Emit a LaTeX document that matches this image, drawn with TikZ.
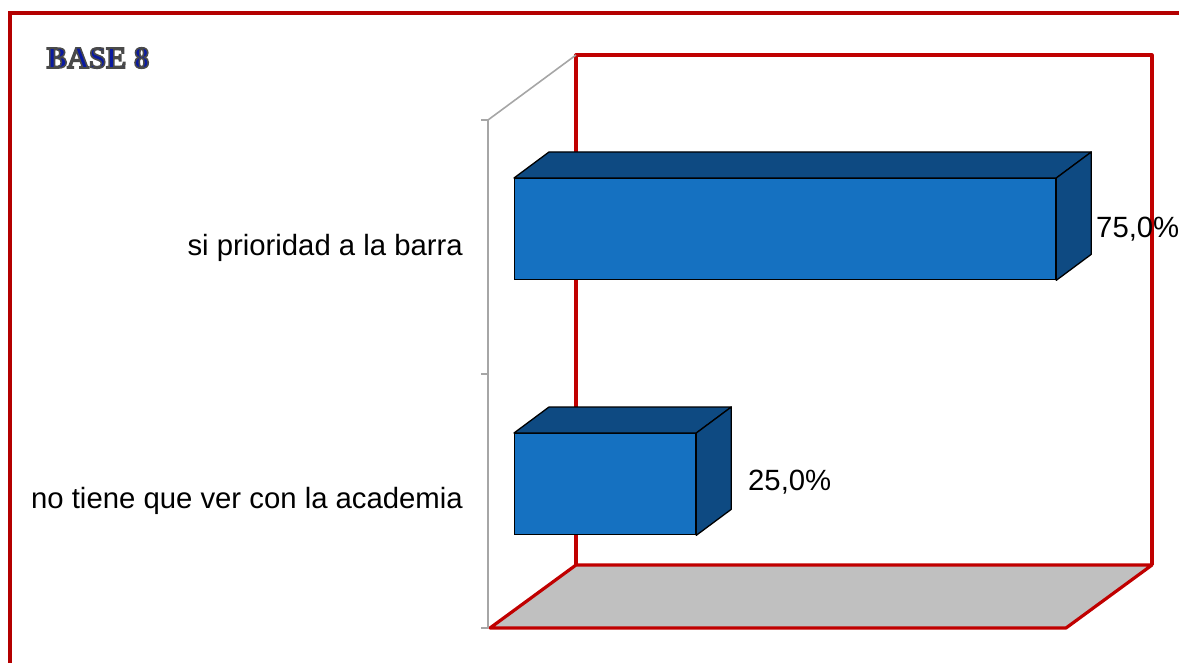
\documentclass[tikz,border=0pt]{standalone}
\usepackage{fontspec}
\setmainfont{Liberation Sans}
\newfontfamily\basefont{Liberation Serif}
\usetikzlibrary{positioning}
\def\depthx{35}
\def\depthy{26}
\def\outlineon{\special{pdf:literal direct 2 Tr 1.6 w 0.29 0.29 0.29 RG}}
\def\outlineoff{\special{pdf:literal direct 0 Tr}}
\definecolor{barfront}{HTML}{1571C1}
\definecolor{bardark}{HTML}{0E4A82}
\definecolor{wallred}{HTML}{C00000}
\definecolor{frameRed}{HTML}{B40000}
\definecolor{axisgray}{HTML}{A6A6A6}
\definecolor{floorgray}{HTML}{C0C0C0}
\definecolor{baseblue}{HTML}{0A1AA0}

\begin{document}
\begin{tikzpicture}[x=1pt,y=-1pt]
            \tikzstyle{bar}=[draw=black, fill=barfront, line width=1.3pt, anchor=north west, inner sep=0pt]
            \tikzstyle{barside}=[draw=black, fill=bardark, line width=1.3pt, line join=round]
            \tikzstyle{wall}=[draw=wallred, line width=3.2pt, line join=round]
            \tikzstyle{cat}=[font=\fontsize{29.3}{31}\selectfont, anchor=east, inner sep=0pt]
            \tikzstyle{val}=[font=\fontsize{29.3}{31}\selectfont, anchor=west, inner sep=0pt]
            \tikzstyle{basetext}=[font=\basefont\bfseries\fontsize{30.5}{32}\selectfont, inner sep=0pt, text=baseblue]

            \useasboundingbox (0,0) rectangle (1179,663);

            % Back wall and floor
            \coordinate (W-bl) at (576,565);
            \coordinate (W-br) at (1152,565);
            \coordinate (F-fl) at (490,628);
            \coordinate (F-fr) at (1066,628);
            \draw[wall] (W-bl) -- (576,55) -- (1152,55) -- (W-br);
            \draw[wall, fill=floorgray] (F-fl) -- (F-fr) -- (W-br) -- (W-bl) -- cycle;

            % Category axis
            \coordinate (A-top) at (488,120);
            \coordinate (A-bot) at (488,628);
            \draw[axisgray, line width=2pt] (A-top) -- (A-bot);
            \draw[axisgray, line width=1.6pt] (A-top) -- (576,55);
            \foreach \y in {120,374,628}
                \draw[axisgray, line width=2pt] (481,\y) -- (488,\y);

            % Draw the bars
            \foreach \name / \y / \w in {1/178/541,2/433/181}
            {
                \node[bar, minimum width=\w pt, minimum height=101pt] (B-\name) at (514,\y) {};
                \draw[barside] (B-\name.north west) -- ++(\depthx,-\depthy)
                    -- ([shift={(\depthx,-\depthy)}]B-\name.north east) -- (B-\name.north east) -- cycle;
                \draw[barside] (B-\name.north east) -- ++(\depthx,-\depthy)
                    -- ([shift={(\depthx,-\depthy)}]B-\name.south east) -- (B-\name.south east) -- cycle;
            }

            % Labels
            \node[cat] (C-1) at (463,248) {si prioridad a la barra};
            \node[cat] (C-2) at (463,501) {no tiene que ver con la academia};
            \node[val] (V-1) at (1096,229) {75,0\%};
            \node[val] (V-2) at (748,482) {25,0\%};

            % Title
            \node[basetext] (T) at (98,58) {\outlineon BASE 8\outlineoff};

            % Outer frame
            \draw[frameRed, line width=4pt] (10,700) |- (1200,13);
\end{tikzpicture}
\end{document}
